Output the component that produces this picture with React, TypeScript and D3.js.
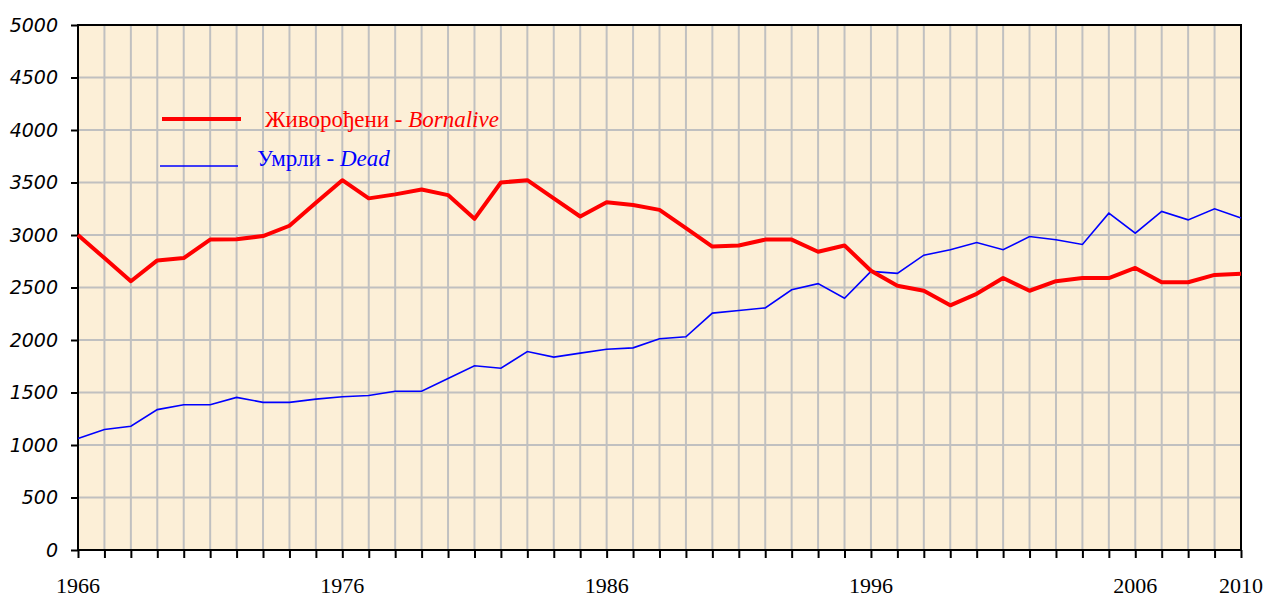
import { useEffect, useRef } from "react";
import * as d3 from "d3";

const W = 1263;
const H = 601;
const margin = { top: 25, left: 78, right: 22, bottom: 46 };

const YEARS: number[] = d3.range(1966, 2011);
const BORN: number[] = [
  3000, 2780, 2560, 2758, 2780, 2956, 2960, 2990, 3088, 3308,
  3522, 3349, 3387, 3434, 3380, 3154, 3500, 3522, 3349, 3176,
  3311, 3286, 3239, 3066, 2890, 2900, 2956, 2956, 2840, 2900,
  2660, 2516, 2469, 2330, 2440, 2590, 2469, 2560, 2590, 2590,
  2686, 2550, 2550, 2620, 2630,
];
const DEAD: number[] = [
  1063, 1148, 1179, 1337, 1384, 1384, 1453, 1406, 1406, 1437,
  1459, 1472, 1512, 1512, 1633, 1755, 1731, 1890, 1837, 1875,
  1912, 1925, 2012, 2031, 2256, 2281, 2306, 2478, 2537, 2397,
  2653, 2635, 2808, 2860, 2928, 2860, 2985, 2955, 2910, 3208,
  3018, 3224, 3144, 3250, 3163,
];
const Y_TICKS: number[] = d3.range(0, 5001, 500);
const X_LABELS: number[] = [1966, 1976, 1986, 1996, 2006, 2010];

const App = () => {
  const svgRef = useRef<SVGSVGElement | null>(null);

  useEffect(() => {
    if (!svgRef.current) return;
    const svg = d3.select(svgRef.current);
    svg.selectAll("*").remove();

    const innerW = W - margin.left - margin.right;
    const innerH = H - margin.top - margin.bottom - 5;

    const x = d3.scaleLinear().domain([1966, 2010]).range([0, innerW]);
    const y = d3.scaleLinear().domain([0, 5000]).range([innerH, 0]);

    const g = svg
      .append("g")
      .attr("transform", `translate(${margin.left}, ${margin.top})`);

    // paper background
    g.append("rect")
      .attr("width", innerW)
      .attr("height", innerH)
      .attr("fill", "#fcefd7");

    // grid
    g.append("g")
      .selectAll("line")
      .data(YEARS)
      .join("line")
      .attr("x1", (d) => x(d))
      .attr("x2", (d) => x(d))
      .attr("y1", 0)
      .attr("y2", innerH)
      .attr("stroke", "#c0c0c0")
      .attr("stroke-width", 2);
    g.append("g")
      .selectAll("line")
      .data(Y_TICKS)
      .join("line")
      .attr("x1", 0)
      .attr("x2", innerW)
      .attr("y1", (d) => y(d))
      .attr("y2", (d) => y(d))
      .attr("stroke", "#c0c0c0")
      .attr("stroke-width", 2);

    // frame
    g.append("rect")
      .attr("width", innerW)
      .attr("height", innerH)
      .attr("fill", "none")
      .attr("stroke", "#000")
      .attr("stroke-width", 2);

    // y axis
    const yAxis = g
      .append("g")
      .call(d3.axisLeft(y).tickValues(Y_TICKS).tickSize(7).tickPadding(13).tickFormat(d3.format("d")));
    yAxis.select(".domain").remove();
    yAxis.selectAll("line").attr("stroke", "#000").attr("stroke-width", 2);
    yAxis
      .selectAll("text")
      .attr("fill", "#000")
      .attr("font-family", "'DejaVu Sans', sans-serif")
      .attr("font-style", "italic")
      .attr("font-size", 19);

    // x axis
    const xAxis = g
      .append("g")
      .attr("transform", `translate(0, ${innerH})`)
      .call(d3.axisBottom(x).tickValues(YEARS).tickSize(8).tickFormat(() => ""));
    xAxis.select(".domain").remove();
    xAxis.selectAll("line").attr("stroke", "#000").attr("stroke-width", 2);
    g.append("g")
      .selectAll("text")
      .data(X_LABELS)
      .join("text")
      .attr("x", (d) => x(d))
      .attr("y", innerH + 43)
      .attr("text-anchor", "middle")
      .attr("font-family", "'Liberation Serif', serif")
      .attr("font-size", 22)
      .attr("fill", "#000")
      .text((d) => d);

    const line = d3
      .line<number>()
      .x((_, i) => x(YEARS[i]))
      .y((d) => y(d));

    g.append("path")
      .datum(DEAD)
      .attr("fill", "none")
      .attr("stroke", "#0000ff")
      .attr("stroke-width", 1.6)
      .attr("d", line);

    g.append("path")
      .datum(BORN)
      .attr("fill", "none")
      .attr("stroke", "#ff0000")
      .attr("stroke-width", 4)
      .attr("stroke-linejoin", "round")
      .attr("d", line);

    // legend
    const legend = g.append("g");
    legend
      .append("line")
      .attr("x1", 84)
      .attr("x2", 163)
      .attr("y1", 94)
      .attr("y2", 94)
      .attr("stroke", "#ff0000")
      .attr("stroke-width", 4);
    legend
      .append("line")
      .attr("x1", 82)
      .attr("x2", 160)
      .attr("y1", 141)
      .attr("y2", 141)
      .attr("stroke", "#0000ff")
      .attr("stroke-width", 1.6);

    const t1 = legend
      .append("text")
      .attr("x", 187)
      .attr("y", 102)
      .attr("fill", "#ff0000")
      .attr("font-family", "'Liberation Serif', serif")
      .attr("font-size", 23);
    t1.append("tspan").text("Живорођени - ");
    t1.append("tspan").attr("font-style", "italic").text("Bornalive");

    const t2 = legend
      .append("text")
      .attr("x", 179)
      .attr("y", 141)
      .attr("fill", "#0000ff")
      .attr("font-family", "'Liberation Serif', serif")
      .attr("font-size", 23);
    t2.append("tspan").text("Умрли - ");
    t2.append("tspan").attr("font-style", "italic").text("Dead");
  }, []);

  return (
    <div style={{ position: "absolute", left: 0, top: 0, background: "#fff" }}>
      <svg ref={svgRef} width={W} height={H} style={{ display: "block" }} />
    </div>
  );
};

export default App;
